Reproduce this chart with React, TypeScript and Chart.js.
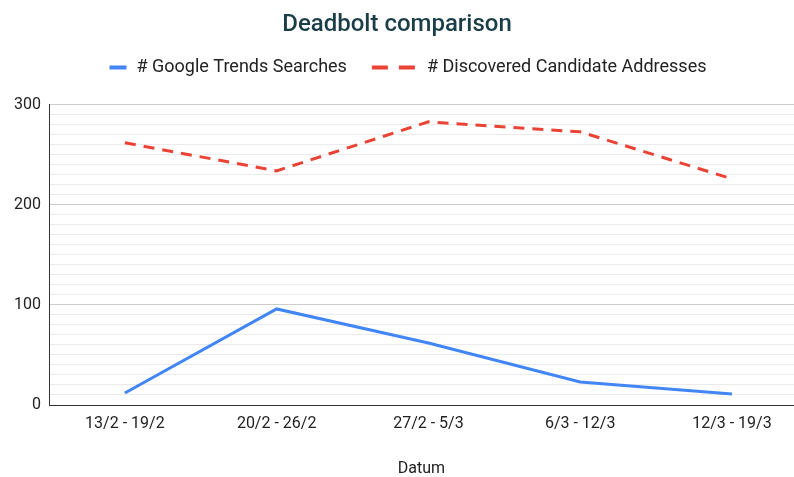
import React, { useEffect, useRef } from "react";
import { Chart, registerables } from "chart.js";

Chart.register(...registerables);

const categories = ["13/2 - 19/2", "20/2 - 26/2", "27/2 - 5/3", "6/3 - 12/3", "12/3 - 19/3"];
const googleTrends = [12, 96, 62, 23, 11];
const candidateAddresses = [262, 234, 283, 273, 226];
const seriesNames = ["# Google Trends Searches", "# Discovered Candidate Addresses"];
const yMajorTicks = [0, 100, 200, 300];

const BLUE = "#4285f4";
const RED = "#ea4335";
const FONT = "Roboto, Arial, sans-serif";

const legendPlugin = {
  id: "customLegend",
  afterDraw(chart: any) {
    const ctx = chart.ctx;
    ctx.save();
    ctx.font = `18px ${FONT}`;
    const w1 = ctx.measureText(seriesNames[0]).width;
    const w2 = ctx.measureText(seriesNames[1]).width;
    const m1 = 17, m2 = 43, gap = 10, gap2 = 12, itemGap = 25;
    const total = m1 + gap + w1 + itemGap + m2 + gap2 + w2;
    let x = chart.width / 2 + 11 - total / 2;
    const y = 67.5;
    ctx.lineWidth = 4;
    ctx.strokeStyle = BLUE;
    ctx.beginPath();
    ctx.moveTo(x, y);
    ctx.lineTo(x + m1, y);
    ctx.stroke();
    x += m1 + gap;
    ctx.fillStyle = "#222222";
    ctx.textBaseline = "middle";
    ctx.textAlign = "left";
    ctx.fillText(seriesNames[0], x, y);
    x += w1 + itemGap;
    ctx.strokeStyle = RED;
    ctx.setLineDash([16, 11]);
    ctx.beginPath();
    ctx.moveTo(x, y);
    ctx.lineTo(x + m2, y);
    ctx.stroke();
    ctx.setLineDash([]);
    x += m2 + gap2;
    ctx.fillText(seriesNames[1], x, y);
    ctx.restore();
  },
};

export default function App() {
  const canvasRef = useRef<HTMLCanvasElement | null>(null);

  useEffect(() => {
    if (!canvasRef.current) return;
    const chart = new Chart(canvasRef.current, {
      type: "line",
      data: {
        datasets: [
          {
            label: seriesNames[0],
            data: googleTrends.map((v, i) => ({ x: i, y: v })),
            borderColor: BLUE,
            backgroundColor: BLUE,
            borderWidth: 3,
            pointRadius: 0,
            tension: 0,
          },
          {
            label: seriesNames[1],
            data: candidateAddresses.map((v, i) => ({ x: i, y: v })),
            borderColor: RED,
            backgroundColor: RED,
            borderWidth: 3,
            borderDash: [11, 8],
            pointRadius: 0,
            tension: 0,
          },
        ],
      },
      options: {
        responsive: false,
        animation: false,
        layout: { padding: 0 },
        plugins: {
          legend: { display: false },
          tooltip: { enabled: false },
          title: {
            display: true,
            text: "Deadbolt comparison",
            color: "#1b3d47",
            font: { family: FONT, size: 24, weight: "500" },
            padding: { top: 11, bottom: 65 },
          },
        },
        scales: {
          x: {
            type: "linear",
            min: -0.5,
            max: 4.409,
            afterBuildTicks: (scale: any) => {
              scale.ticks = categories.map((_, i) => ({ value: i }));
            },
            afterFit: (scale: any) => {
              scale.height = 72;
            },
            grid: { display: false, drawTicks: false },
            border: { display: true, color: "#333333", width: 1 },
            ticks: {
              autoSkip: false,
              maxRotation: 0,
              padding: 9,
              color: "#222222",
              font: { family: FONT, size: 16 },
              callback: (v: any) => categories[v] ?? "",
            },
            title: {
              display: true,
              text: "Datum",
              color: "#222222",
              font: { family: FONT, size: 16 },
              padding: { top: 0, bottom: -2 },
            },
          },
          y: {
            min: 0,
            max: 300,
            afterFit: (scale: any) => {
              scale.width = 49;
            },
            afterBuildTicks: (scale: any) => {
              const t: any[] = [];
              for (let v = 0; v <= 300; v += 10) t.push({ value: v });
              scale.ticks = t;
            },
            grid: {
              drawTicks: false,
              color: (c: any) => (yMajorTicks.includes(c.tick?.value) ? "#cccccc" : "#ebebeb"),
              lineWidth: 1,
            },
            border: { display: true, color: "#333333", width: 1 },
            ticks: {
              autoSkip: false,
              padding: 8,
              color: "#222222",
              font: { family: FONT, size: 16 },
              callback: (v: any) => (yMajorTicks.includes(v) ? String(v) : ""),
            },
          },
        },
      },
      plugins: [legendPlugin],
    });
    return () => chart.destroy();
  }, []);

  return (
    <div style={{ position: "fixed", left: 0, top: 0, width: 794, height: 477, background: "#fff" }}>
      <canvas ref={canvasRef} width={794} height={477} style={{ display: "block" }} />
    </div>
  );
}
